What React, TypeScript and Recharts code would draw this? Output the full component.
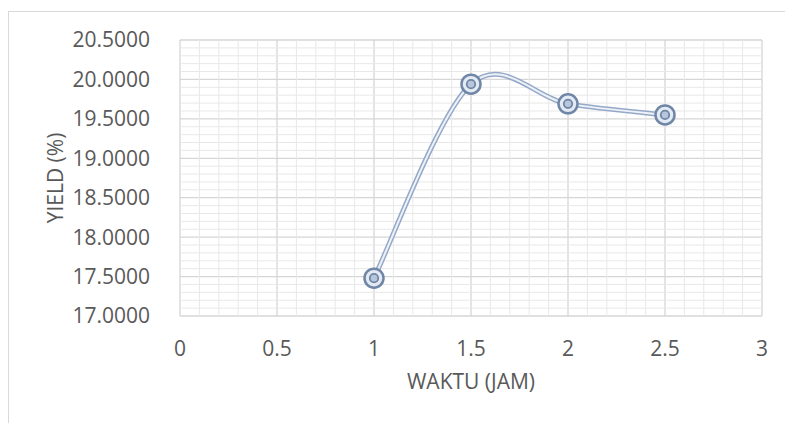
import React from "react";
import { LineChart, Line, XAxis, YAxis, CartesianGrid, ReferenceLine } from "recharts";

const waktu = [1, 1.5, 2, 2.5];
const yieldValues = [17.48, 19.94, 19.69, 19.55];
const xTicks = [0, 0.5, 1, 1.5, 2, 2.5, 3];
const yTicks = [17, 17.5, 18, 18.5, 19, 19.5, 20, 20.5];

const data = waktu.map((w, i) => ({ waktu: w, yield: yieldValues[i] }));

// minor gridlines every 0.1 (skip the majors)
const xMinor: number[] = [];
for (let i = 1; i < 30; i++) if (i % 5 !== 0) xMinor.push(i / 10);
const yMinor: number[] = [];
for (let i = 171; i < 205; i++) if (i % 5 !== 0) yMinor.push(i / 10);

const TEXT = "#595959";
const FONT = "'Open Sans', 'Liberation Sans', sans-serif";

// Excel-like smoothed line: bezier with control points at 1/6 of neighbours
function excelSmooth(context: any) {
  let pts: number[][] = [];
  return {
    areaStart() {},
    areaEnd() {},
    lineStart() {
      pts = [];
    },
    point(x: number, y: number) {
      pts.push([+x, +y]);
    },
    lineEnd() {
      if (!pts.length) return;
      context.moveTo(pts[0][0], pts[0][1]);
      for (let i = 0; i < pts.length - 1; i++) {
        const p0 = pts[Math.max(i - 1, 0)];
        const p1 = pts[i];
        const p2 = pts[i + 1];
        const p3 = pts[Math.min(i + 2, pts.length - 1)];
        context.bezierCurveTo(
          p1[0] + (p2[0] - p0[0]) / 6,
          p1[1] + (p2[1] - p0[1]) / 6,
          p2[0] - (p3[0] - p1[0]) / 6,
          p2[1] - (p3[1] - p1[1]) / 6,
          p2[0],
          p2[1]
        );
      }
    },
  };
}

const Marker = (props: any) => {
  const { cx, cy, index } = props;
  if (cx == null || cy == null) return null;
  return (
    <g key={`m-${index}`}>
      <circle cx={cx} cy={cy} r={9.5} fill="#e4eaf3" stroke="#6f86a6" strokeWidth={2.5} />
      <circle cx={cx} cy={cy} r={4.2} fill="#b7c6da" stroke="#6f86a6" strokeWidth={1.8} />
    </g>
  );
};

export default function App() {
  return (
    <div style={{ position: "absolute", left: 0, top: 0, width: 785, height: 423, background: "#fff", fontFamily: FONT }}>
      <div
        style={{
          position: "absolute",
          left: 8,
          top: 11,
          width: 790,
          height: 420,
          borderTop: "1px solid #d9d9d9",
          borderLeft: "1px solid #d9d9d9",
        }}
      />
      <div style={{ position: "absolute", left: 0, top: 0 }}>
        <LineChart width={785} height={423} data={data} margin={{ top: 40, right: 23, left: 0, bottom: 0 }}>
          {xMinor.map((v) => (
            <ReferenceLine key={`xm${v}`} x={v} stroke="#e8e8e8" strokeWidth={1} />
          ))}
          {yMinor.map((v) => (
            <ReferenceLine key={`ym${v}`} y={v} stroke="#e8e8e8" strokeWidth={1} />
          ))}
          <CartesianGrid stroke="#d6d6d6" strokeWidth={1.3} />
          <XAxis
            dataKey="waktu"
            type="number"
            domain={[0, 3]}
            ticks={xTicks}
            axisLine={false}
            tickLine={false}
            height={107}
            tick={{ fill: TEXT, fontSize: 21, fontFamily: FONT }}
            tickMargin={19}
            label={{ value: "WAKTU (JAM)", position: "insideTop", offset: 58, fill: TEXT, fontSize: 21, fontFamily: FONT }}
          />
          <YAxis
            type="number"
            domain={[17, 20.5]}
            ticks={yTicks}
            tickFormatter={(v: number) => v.toFixed(4)}
            axisLine={false}
            tickLine={false}
            width={180}
            tickMargin={24}
            tick={{ fill: TEXT, fontSize: 21, fontFamily: FONT }}
            label={{ value: "YIELD (%)", angle: -90, position: "insideLeft", offset: 56, fill: TEXT, fontSize: 21, fontFamily: FONT, style: { textAnchor: "middle" } }}
          />
          <Line
            dataKey="yield"
            type={excelSmooth as any}
            stroke="#94a9c7"
            strokeWidth={5}
            dot={false}
            activeDot={false}
            isAnimationActive={false}
          />
          <Line
            dataKey="yield"
            type={excelSmooth as any}
            stroke="#eef2f8"
            strokeWidth={2}
            dot={<Marker />}
            activeDot={false}
            isAnimationActive={false}
          />
        </LineChart>
      </div>
    </div>
  );
}
